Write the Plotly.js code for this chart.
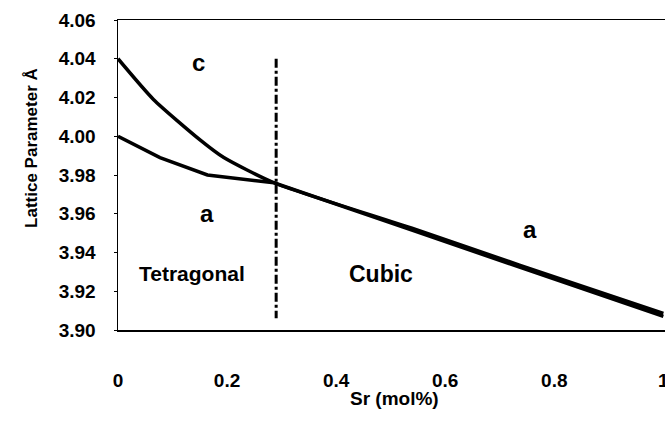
<!DOCTYPE html>
<html>
<head>
<meta charset="utf-8">
<script src="https://cdn.plot.ly/plotly-3.0.1.min.js"></script>
<style>html,body{margin:0;padding:0;background:#fff;}#chart{width:665px;height:427px;}</style>
</head>
<body>
<div id="chart"></div>
<script>
// Sr content (mol fraction) and lattice parameters (Å)
const cX = [0, 0.065, 0.151, 0.194, 0.286, 0.539, 0.736, 1.0];
const cY = [4.040, 4.019, 3.998, 3.989, 3.976, 3.9525, 3.9335, 3.9085];
const aX = [0, 0.077, 0.164, 0.286, 0.539, 0.736, 1.0];
const aY = [4.000, 3.989, 3.980, 3.976, 3.9515, 3.9325, 3.907];
const boundaryX = [0.29, 0.29];
const boundaryY = [4.040, 3.906];
const xTicks = [0, 0.2, 0.4, 0.6, 0.8, 1];
const xTickText = ['0', '0.2', '0.4', '0.6', '0.8', '1'];
const yTicks = [3.90, 3.92, 3.94, 3.96, 3.98, 4.00, 4.02, 4.04, 4.06];
const yTickText = ['3.90', '3.92', '3.94', '3.96', '3.98', '4.00', '4.02', '4.04', '4.06'];
const labels = [
  {x: 0.148, y: 4.038, text: 'c', size: 24},
  {x: 0.164, y: 3.960, text: 'a', size: 24},
  {x: 0.756, y: 3.952, text: 'a', size: 24},
  {x: 0.136, y: 3.929, text: 'Tetragonal', size: 21},
  {x: 0.483, y: 3.929, text: 'Cubic', size: 23}
];

const FONT = 'Liberation Sans, Arial, sans-serif';

const traces = [
  {x: cX, y: cY, mode: 'lines', line: {color: '#000', width: 3.5, shape: 'spline', smoothing: 0.6}, hoverinfo: 'none'},
  {x: aX, y: aY, mode: 'lines', line: {color: '#000', width: 3.5}, hoverinfo: 'none'},
  {x: boundaryX, y: boundaryY, mode: 'lines', line: {color: '#000', width: 3, dash: 'dashdot'}, hoverinfo: 'none'}
];

const annotations = labels.map(l => ({
  x: l.x, y: l.y, xref: 'x', yref: 'y', showarrow: false,
  text: '<b>' + l.text + '</b>',
  font: {family: FONT, size: l.size, color: '#000'}
}));
annotations.push({
  x: -0.179, y: 0.586, xref: 'paper', yref: 'paper', showarrow: false,
  text: '<b>Lattice Parameter Å</b>', textangle: -90,
  font: {family: FONT, size: 17, color: '#000'}
});
annotations.push({
  x: 0.506, y: -0.262, xref: 'paper', yref: 'paper', showarrow: false,
  text: '<b>Sr (mol%)</b>',
  font: {family: FONT, size: 19, color: '#000'}
});

const layout = {
  width: 665, height: 427,
  margin: {l: 118, r: 0, t: 20, b: 97},
  paper_bgcolor: '#fff', plot_bgcolor: '#fff',
  showlegend: false,
  xaxis: {
    range: [0, 1.003], tickvals: xTicks, ticktext: xTickText,
    showgrid: false, zeroline: false, showline: true, linecolor: '#000', linewidth: 1.5,
    mirror: true, ticks: '', ticklabelstandoff: 33, ticklabeloverflow: 'allow',
    tickfont: {family: FONT, size: 19, color: '#000', weight: 'bold'}
  },
  yaxis: {
    range: [3.90, 4.06], tickvals: yTicks, ticktext: yTickText,
    showgrid: false, zeroline: false, showline: true, linecolor: '#000', linewidth: 1.5,
    mirror: true, ticks: 'outside', ticklen: 3, tickcolor: '#000', ticklabelstandoff: 14,
    tickfont: {family: FONT, size: 19, color: '#000', weight: 'bold'}
  },
  annotations: annotations
};

Plotly.newPlot('chart', traces, layout, {displayModeBar: false, staticPlot: true});
</script>
</body>
</html>
